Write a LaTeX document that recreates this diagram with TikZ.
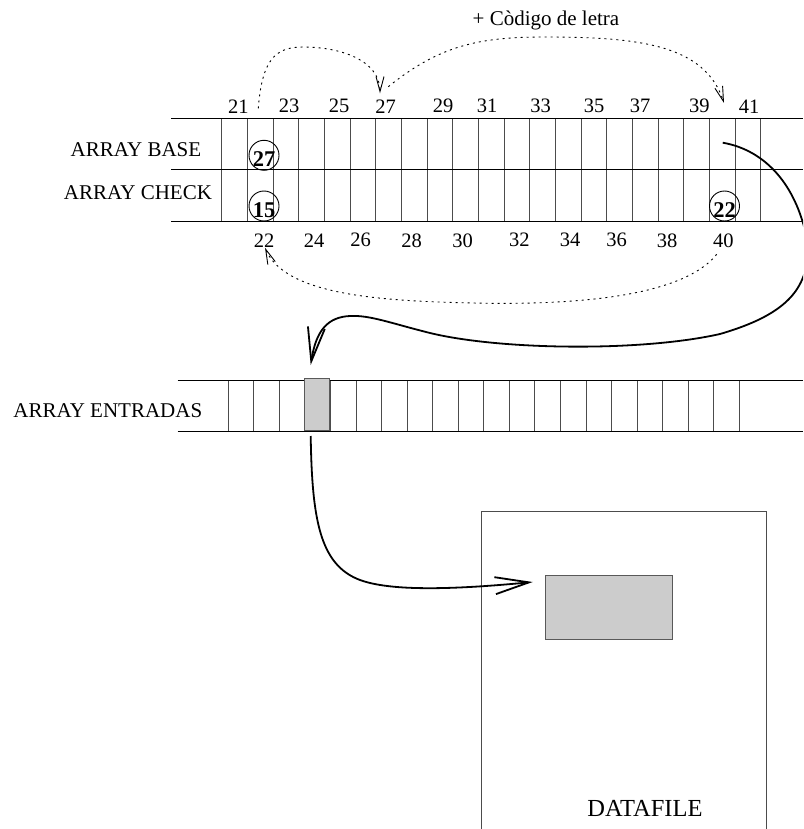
\documentclass[tikz,border=0pt]{standalone}
\usepackage{fontspec}
\setmainfont{Liberation Serif}
\usetikzlibrary{arrows.meta}
\begin{document}
\begin{tikzpicture}[x=1pt,y=-1pt,
  hline/.style={line width=1pt,black},
  vline/.style={line width=1pt,black!70},
  txt/.style={inner sep=0pt,font=\fontsize{21}{25}\selectfont},
  idx/.style={inner sep=0pt,font=\fontsize{20.5}{24}\selectfont},
  circ/.style={circle,draw,line width=0.9pt,minimum size=30pt,inner sep=-4pt,text height=23pt,text depth=0pt,font=\bfseries\fontsize{22.5}{26}\selectfont},
  dotarrow/.style={line width=0.9pt,dash pattern=on 2pt off 4pt,-{Straight Barb[length=15pt,width=8pt]}},
  bigarrow/.style={line width=1.8pt,-{Straight Barb[length=34pt,width=17pt]}},
  grayfill/.style={fill=black!20,draw=black!65,line width=1pt,inner sep=0pt}]
\useasboundingbox (0,0) rectangle (803,829);
\clip (0,0) rectangle (803,829);

% top arrays (BASE / CHECK)
\foreach \i in {0,...,21} \draw[vline] ({221.7+\i*25.68},119) -- ({221.7+\i*25.68},221);
\draw[hline] (171,119) -- (803,119);
\draw[hline] (171,170) -- (803,170);
\draw[hline] (171,221) -- (803,221);

\node[txt] (lbase) at (136,149.3) {ARRAY BASE};
\node[txt] (lcheck) at (138,192.7) {ARRAY CHECK};

\foreach \n/\x in {21/238.3,23/289,25/339,27/385.7,29/443,31/487,33/540.6,35/594,37/640,39/699.4,41/749}
  \node[idx] (t\n) at (\x,106.3) {\n};
\foreach \n/\x in {22/264,24/314,26/360.7,28/411.7,30/462.7,32/519.3,34/570,36/616.7,38/667,40/723.3}
  \node[idx] (b\n) at (\x,240.3) {\n};

\node[circ] (c27) at (264,155.3) {27};
\node[circ] (c15) at (264,206) {15};
\node[circ] (c22) at (724.5,206) {22};

\node[txt,anchor=base] (code) at (546,26) {+ Còdigo de letra};

% entradas array
\draw[hline] (177.7,380.5) -- (803,380.5);
\draw[hline] (177.7,431) -- (803,431);
\foreach \j in {0,...,20} \draw[vline] ({228.3+\j*25.55},380.5) -- ({228.3+\j*25.55},431);
\node[grayfill,minimum width=25.3pt,minimum height=51.7pt,anchor=north west] (entry) at (304,378.3) {};
\node[txt] (lentr) at (107.8,410.3) {ARRAY ENTRADAS};

% datafile
\draw[line width=1pt,black!70] (481.3,840) -- (481.3,511.7) -- (766.7,511.7) -- (766.7,840);
\node[grayfill,minimum width=127pt,minimum height=64pt,anchor=north west] (rec) at (544.7,575.3) {};
\node[inner sep=0pt,font=\fontsize{24.5}{28}\selectfont,anchor=base] (dfl) at (645,816) {DATAFILE};

% connectors
\coordinate (d1s) at (258.3,108.3);
\coordinate (d1e) at (380,93.3);
\coordinate (d2s) at (388.3,86.7);
\coordinate (d2e) at (724,103);
\coordinate (d3s) at (716.7,254.3);
\coordinate (d3e) at (265,247.7);
\coordinate (bs) at (722.7,142.7);
\coordinate (be) at (310.7,365);
\coordinate (es) at (310.7,436);
\coordinate (rt) at (532.7,582);

\draw[dotarrow] (d1s) .. controls (262,60) and (275,47) .. (303,47) .. controls (340,47) and (380,60) .. (d1e);
\draw[dotarrow] (d2s) .. controls (440,45) and (480,37) .. (545,37) .. controls (640,37) and (705,45) .. (d2e);
\draw[dotarrow] (d3s) .. controls (680,300) and (560,305) .. (473,303) .. controls (380,301) and (285,295) .. (d3e);

\draw[bigarrow] (bs) .. controls (765,150) and (798,185) .. (808,245) .. controls (809,290) and (785,315) .. (720,334) .. controls (640,352) and (500,350) .. (430,333) .. controls (390,323) and (370,315) .. (350,316) .. controls (328,317) and (316,330) .. (be);
\draw[bigarrow] (es) .. controls (312,520) and (320,565) .. (360,580) .. controls (390,591) and (450,590) .. (rt);
\end{tikzpicture}
\end{document}
